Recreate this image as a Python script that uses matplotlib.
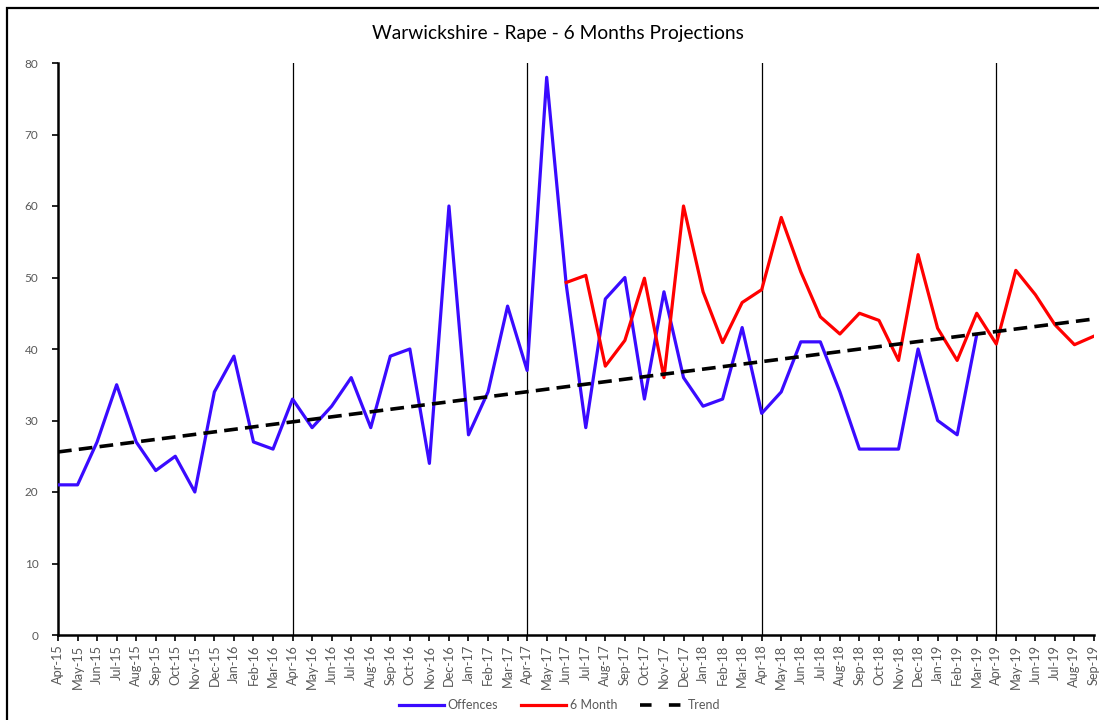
import matplotlib
matplotlib.use("Agg")
import matplotlib.pyplot as plt
from matplotlib.patches import Rectangle
from matplotlib.lines import Line2D

months = ["Apr-15","May-15","Jun-15","Jul-15","Aug-15","Sep-15","Oct-15","Nov-15","Dec-15","Jan-16","Feb-16","Mar-16",
          "Apr-16","May-16","Jun-16","Jul-16","Aug-16","Sep-16","Oct-16","Nov-16","Dec-16","Jan-17","Feb-17","Mar-17",
          "Apr-17","May-17","Jun-17","Jul-17","Aug-17","Sep-17","Oct-17","Nov-17","Dec-17","Jan-18","Feb-18","Mar-18",
          "Apr-18","May-18","Jun-18","Jul-18","Aug-18","Sep-18","Oct-18","Nov-18","Dec-18","Jan-19","Feb-19","Mar-19",
          "Apr-19","May-19","Jun-19","Jul-19","Aug-19","Sep-19"]

offences = [21, 21, 27, 35, 27, 23, 25, 20, 34, 39, 27, 26,
            33, 29, 32, 36, 29, 39, 40, 24, 60, 28, 34, 46,
            37, 78, 49, 29, 47, 50, 33, 48, 36, 32, 33, 43,
            31, 34, 41, 41, 34, 26, 26, 26, 40, 30, 28, 42]

six_month_start = "Jun-17"
six_month = [49.3, 50.3, 37.6, 41.2, 49.9, 36.0, 60.0, 48.0, 40.9, 46.5,
             48.3, 58.4, 50.8, 44.5, 42.1, 45.0, 44.0, 38.4, 53.2, 42.9, 38.4, 45.0,
             40.7, 51.0, 47.6, 43.4, 40.6, 41.8]

trend_start, trend_end = 25.6, 44.2
year_marks = ["Apr-16", "Apr-17", "Apr-18", "Apr-19"]

plt.rcParams['font.family'] = ['Lato', 'DejaVu Sans']

fig = plt.figure(figsize=(10.99, 7.2), dpi=100)
ax = fig.add_axes([58/1099, 85/720, (1094-58)/1099, (635-63)/720])

x_off = list(range(len(offences)))
s0 = months.index(six_month_start)
x_six = list(range(s0, s0 + len(six_month)))

for m in year_marks:
    ax.axvline(months.index(m), color='black', lw=0.9, zorder=1)

dash = (0, (3.8, 2.0))
ax.plot(x_off, offences, color='#3A0BFF', lw=2.3, label='Offences', zorder=3)
ax.plot(x_six, six_month, color='#FF0000', lw=2.3, label='6 Month', zorder=4)
ax.plot([0, len(months) - 1], [trend_start, trend_end], color='black', lw=2.6,
        ls=dash, label='Trend', zorder=5)

ax.set_xlim(0, len(months) - 1)
ax.set_ylim(0, 80)
ax.set_yticks(range(0, 81, 10))
ax.set_xticks(range(len(months)))
ax.set_xticklabels(months, rotation=90, fontsize=9.2, color='#595959')
ax.tick_params(axis='y', labelsize=8.5, labelcolor='#595959', direction='out', length=4, width=1.2, pad=10)
ax.tick_params(axis='x', direction='out', length=4, width=1.2, pad=3)
for s in ['top', 'right']:
    ax.spines[s].set_visible(False)
ax.spines['left'].set_linewidth(1.8)
ax.spines['bottom'].set_linewidth(1.8)

fig.text(558/1099, 1 - 34/720, "Warwickshire - Rape - 6 Months Projections",
         ha='center', va='center', fontsize=13.8, color='black')

handles = [Line2D([0], [0], color='#3A0BFF', lw=2.3),
           Line2D([0], [0], color='#FF0000', lw=2.3),
           Line2D([0], [0], color='black', lw=2.6, ls=(0, (3.2, 4.8)))]
leg = fig.legend(handles, ['Offences', '6 Month', 'Trend'], loc='center',
                 bbox_to_anchor=(560/1099, 1 - 705/720), ncol=3, frameon=False,
                 fontsize=9, handlelength=3.6, columnspacing=1.8, handletextpad=0.3)
for t in leg.get_texts():
    t.set_color('#595959')

fig.patches.append(Rectangle((7/1099, -0.05), 1.1, 1 - 8/720 + 0.05, transform=fig.transFigure,
                             fill=False, edgecolor='black', lw=1.6, zorder=0))

fig.savefig("out.png", dpi=100)
